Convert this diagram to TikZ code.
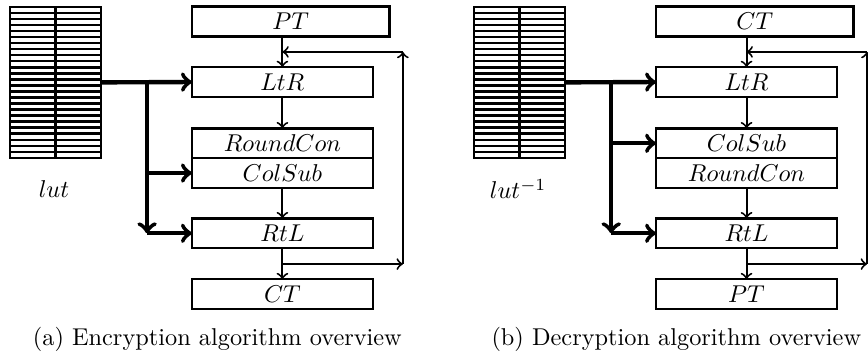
\documentclass[tikz,border=0pt]{standalone}

\begin{document}
\begin{tikzpicture}[>=to,thick,
	stage/.style={draw,line width=1pt,outer sep=0pt,inner sep=0pt,
		minimum width=2.615cm,minimum height=0.433cm},
	bus/.style={->,line width=1.8pt}]
\useasboundingbox (0,0) rectangle (12.54,-5.086);
\def\lut#1#2{
	\node[draw,line width=1pt,outer sep=0pt,inner sep=0pt,
		minimum width=1.315cm,minimum height=2.18cm] (#2) at (#1,-1.19) {};
	\foreach \i in {1,...,24}{
		\draw[line width=1pt] (#2.north west) ++(0,-\i*0.0872) -- ++(1.315,0);
	}
	\draw[line width=1pt] (#2.north) -- (#2.south);
}

\begin{scope}
\lut{0.80}{lutA}
\node (lutlabelA) at (0.78,-2.73) {$lut$};
\node[stage,minimum width=2.85cm] (ptA) at (4.20,-0.31) {$PT$};
\node[stage] (ltrA) at (4.08,-1.185) {$LtR$};
\node[stage] (rcA) at (4.08,-2.07) {$RoundCon$};
\node[stage] (csA) at (4.08,-2.50) {$ColSub$};
\node[stage] (rtlA) at (4.08,-3.37) {$RtL$};
\node[stage] (ctA) at (4.08,-4.25) {$CT$};
\node (captionA) at (3.14,-4.90) {(a) Encryption algorithm overview};

\draw[->] (ltrA.north |- ptA.south) -- (ltrA.north);
\draw[->] (ltrA.south) -- (rcA.north);
\draw[->] (csA.south) -- (rtlA.north);
\draw[->] (rtlA.south) -- (ctA.north);

\coordinate (brA) at (5.82,-3.815);
\coordinate (trA) at (5.82,-0.75);
\draw[->] (rtlA.south |- brA) -- (brA);
\draw[->] (brA) -- (trA);
\draw[->] (trA) -- (trA -| ltrA.north);

\coordinate (forkA) at (2.125,-1.19);
\coordinate (downA) at (2.125,-3.37);
\draw[bus] (lutA.east) -- (ltrA.west);
\draw[bus] (forkA) -- (downA);
\draw[bus] (downA) -- (rtlA.west);
\draw[bus] (forkA |- csA.west) -- (csA.west);
\end{scope}

\begin{scope}[xshift=6.705cm]
\lut{0.80}{lutB}
\node (lutlabelB) at (0.78,-2.73) {$lut^{-1}$};
\node[stage,minimum width=2.85cm] (ctB) at (4.20,-0.31) {$CT$};
\node[stage] (ltrB) at (4.08,-1.185) {$LtR$};
\node[stage] (csB) at (4.08,-2.07) {$ColSub$};
\node[stage] (rcB) at (4.08,-2.50) {$RoundCon$};
\node[stage] (rtlB) at (4.08,-3.37) {$RtL$};
\node[stage] (ptB) at (4.08,-4.25) {$PT$};
\node (captionB) at (3.065,-4.90) {(b) Decryption algorithm overview};

\draw[->] (ltrB.north |- ctB.south) -- (ltrB.north);
\draw[->] (ltrB.south) -- (csB.north);
\draw[->] (rcB.south) -- (rtlB.north);
\draw[->] (rtlB.south) -- (ptB.north);

\coordinate (brB) at (5.82,-3.815);
\coordinate (trB) at (5.82,-0.75);
\draw[->] (rtlB.south |- brB) -- (brB);
\draw[->] (brB) -- (trB);
\draw[->] (trB) -- (trB -| ltrB.north);

\coordinate (forkB) at (2.125,-1.19);
\coordinate (downB) at (2.125,-3.37);
\draw[bus] (lutB.east) -- (ltrB.west);
\draw[bus] (forkB) -- (downB);
\draw[bus] (downB) -- (rtlB.west);
\draw[bus] (forkB |- csB.west) -- (csB.west);
\end{scope}

\end{tikzpicture}
\end{document}
